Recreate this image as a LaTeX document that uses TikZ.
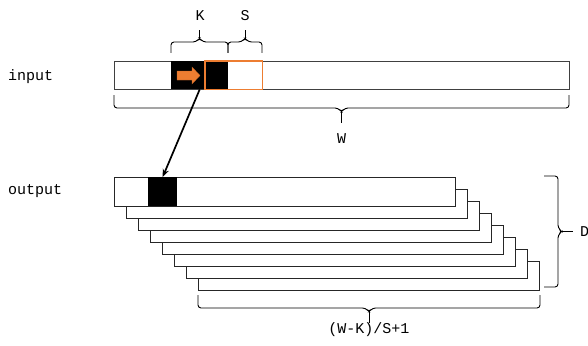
\documentclass[tikz,border=0pt]{standalone}
\usepackage{fontspec}
\setmonofont{Liberation Mono}
\usetikzlibrary{arrows.meta}
\definecolor{orng}{HTML}{ED7D31}
\begin{document}
\begin{tikzpicture}[x=1pt,y=-1pt,
  lbl/.style={font=\ttfamily\fontsize{15}{17}\selectfont, inner sep=0pt},
  bar/.style={draw=black!75, line width=1.1pt, fill=white, inner sep=0pt, anchor=north west},
  layer/.style={draw=black!85, line width=0.9pt, fill=white, inner sep=0pt, anchor=north west,
                minimum width=341pt, minimum height=29pt},
  cell/.style={fill=black, inner sep=0pt, anchor=north west},
  brc/.style={draw=black, line width=0.9pt, rounded corners=3pt},
  brctip/.style={draw=black, line width=0.9pt}]
\useasboundingbox (0,0) rectangle (588,345);

% input bar
\node[bar, minimum width=455pt, minimum height=28pt] (inbar) at (114,61) {};
\node[cell, minimum width=57pt, minimum height=28pt] (kwin) at (171,61) {};
\node[inner sep=0pt, anchor=north west, minimum width=57pt, minimum height=28pt] (swin) at (205,61) {};
\draw[orng, line width=1.3pt] (swin.north west) rectangle (swin.south east);
\fill[orng, draw=orng!80!black, line width=0.3pt]
  (177,71) -- (192,71) -- (192,67) -- (200,75.5) -- (192,84) -- (192,80) -- (177,80) -- cycle;

% output stack
\foreach \k in {7,6,...,1} {
  \node[layer] (lay\k) at ({114+12*\k},{177+12*\k}) {};
}
\node[layer] (lay0) at (114,177) {};
\node[cell, minimum width=29pt, minimum height=29pt] (ocell) at (148,177) {};

% arrow
\draw[line width=1.7pt, -{Stealth[length=8pt,width=6.5pt]}] (kwin.south) -- (ocell.north);

% labels
\node[lbl, anchor=west] (tin) at (8,77) {input};
\node[lbl, anchor=west] (tout) at (8,191) {output};
\node[lbl] (tK) at (200,16) {K};
\node[lbl] (tS) at (245,16) {S};
\node[lbl] (tW) at (341.5,139) {W};
\node[lbl] (tN) at (369,330) {(W-K)/S+1};
\node[lbl, anchor=west] (tD) at (580,232) {D};

% K brace
\draw[brc] (171,53) -- (171,42) -- (196,42) -- (199.5,38) -- (203,42) -- (228,42) -- (228,53);
\draw[brctip] (199.5,40) -- (199.5,30);
% S brace
\draw[brc] (228,53) -- (228,42) -- (241.5,42) -- (245,38) -- (248.5,42) -- (262,42) -- (262,53);
\draw[brctip] (245,40) -- (245,30);
% W brace
\draw[brc] (114,95) -- (114,108) -- (338,108) -- (341.5,112) -- (345,108) -- (569,108) -- (569,95);
\draw[brctip] (341.5,110) -- (341.5,123);
% bottom brace
\draw[brc] (198,295) -- (198,308) -- (365.5,308) -- (369,312) -- (372.5,308) -- (540,308) -- (540,295);
\draw[brctip] (369,310) -- (369,323);
% D brace
\draw[brc] (544,176) -- (558,176) -- (558,228) -- (562,231.5) -- (558,235) -- (558,287) -- (544,287);
\draw[brctip] (560,231.5) -- (573,231.5);
\end{tikzpicture}
\end{document}
